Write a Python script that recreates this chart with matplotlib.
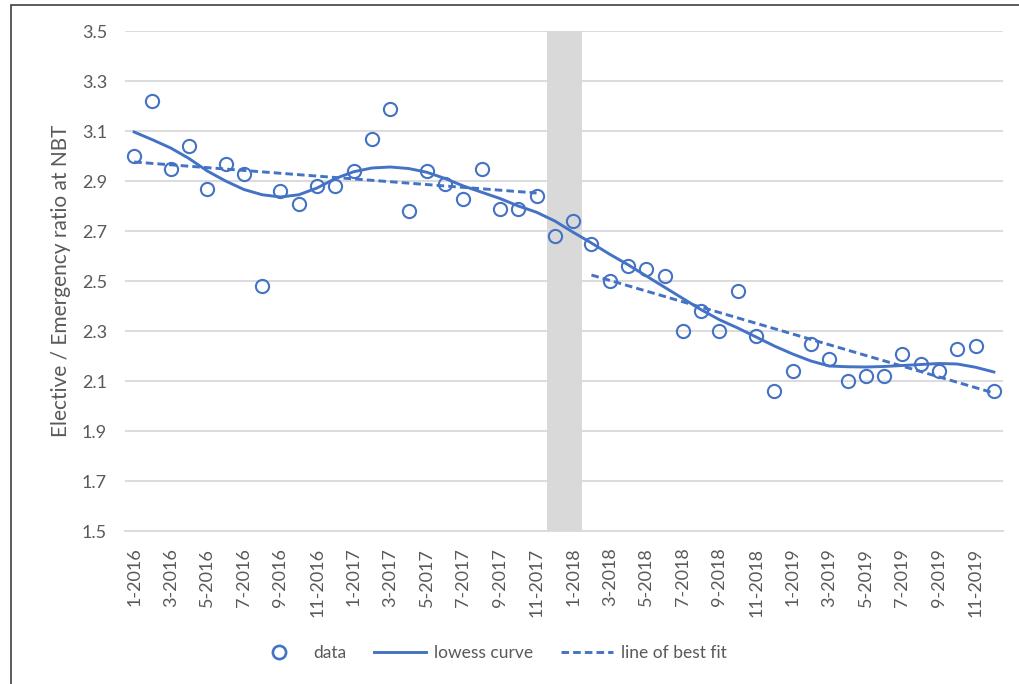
import numpy as np
import matplotlib
matplotlib.use("Agg")
import matplotlib.pyplot as plt
from matplotlib.patches import Rectangle
from matplotlib.lines import Line2D

plt.rcParams['font.family'] = ['Lato', 'DejaVu Sans']

# months Jan 2016 .. Dec 2019
months = [f"{m}-{y}" for y in range(2016, 2020) for m in range(1, 13)]

ratio = [3.00, 3.22, 2.95, 3.04, 2.87, 2.97, 2.93, 2.48, 2.86, 2.81,
         2.88, 2.88, 2.94, 3.07, 3.19, 2.78, 2.94, 2.89, 2.83, 2.95,
         2.79, 2.79, 2.84, 2.68, 2.74, 2.65, 2.50, 2.56, 2.55, 2.52,
         2.30, 2.38, 2.30, 2.46, 2.28, 2.06, 2.14, 2.25, 2.19, 2.10,
         2.12, 2.12, 2.21, 2.17, 2.14, 2.23, 2.24, 2.06]

lowess = [3.096, 3.065, 3.032, 2.99, 2.94, 2.90, 2.866, 2.845, 2.836, 2.845,
          2.872, 2.91, 2.937, 2.952, 2.956, 2.95, 2.935, 2.91, 2.88, 2.855,
          2.83, 2.80, 2.775, 2.74, 2.695, 2.652, 2.607, 2.565, 2.52, 2.475,
          2.43, 2.385, 2.345, 2.312, 2.276, 2.24, 2.208, 2.18, 2.16, 2.157,
          2.156, 2.158, 2.162, 2.166, 2.17, 2.168, 2.155, 2.136]

# line of best fit, two segments (start month, end month) -> (start value, end value)
fit_months = [(0, 22), (25, 47)]
fit_values = [(2.976, 2.852), (2.524, 2.052)]

gap_months = [23, 24]

blue = '#4472C4'
grey_txt = '#595959'
dash = (2.6, 1.4)

fig = plt.figure(figsize=(10.19, 6.84), dpi=100)
ax = fig.add_axes([125 / 1019, 1 - 531 / 684, 878 / 1019, 500 / 684])

x = np.arange(len(months))
ax.axvspan(gap_months[0] - 0.45, gap_months[-1] + 0.48, color='#d9d9d9', lw=0, zorder=1)

ax.plot(x, ratio, 'o', ms=9.5, mfc='none', mec=blue, mew=1.5, zorder=4)
ax.plot(x, lowess, '-', color=blue, lw=2.1, zorder=3)
for (m0, m1), (v0, v1) in zip(fit_months, fit_values):
    ax.plot([m0, m1], [v0, v1], '--', color=blue, lw=2.1, dashes=dash, zorder=3)

ax.set_xlim(-0.5, len(months) - 0.5)
ax.set_ylim(1.5, 3.5)
yt = np.arange(1.5, 3.51, 0.2)
ax.set_yticks(yt)
ax.set_yticklabels([f"{v:.1f}" for v in yt])
ax.set_xticks(x[::2])
ax.set_xticklabels(months[::2], rotation=90)
ax.grid(axis='y', color='#d9d9d9', lw=1.3)
ax.set_axisbelow(True)
for s in ['top', 'right', 'left']:
    ax.spines[s].set_visible(False)
ax.spines['bottom'].set_color('#d9d9d9')
ax.spines['bottom'].set_linewidth(1.3)
ax.tick_params(axis='both', length=0, colors=grey_txt, labelsize=13)
ax.tick_params(axis='y', pad=13)
ax.tick_params(axis='x', pad=12)
ax.set_ylabel("Elective / Emergency ratio at NBT", color=grey_txt, fontsize=15, labelpad=8)

handles = [
    Line2D([], [], ls='none', marker='o', ms=9.5, mfc='none', mec=blue, mew=1.9),
    Line2D([], [], color=blue, lw=2.1),
    Line2D([], [], color=blue, lw=2.1, ls='--', dashes=dash),
]
fig.legend(handles, ['data', 'lowess curve', 'line of best fit'], loc='center',
           bbox_to_anchor=(490 / 1019, 1 - 653 / 684), ncol=3, frameon=False,
           fontsize=12.5, labelcolor=grey_txt, handlelength=3.0, handletextpad=0.45,
           columnspacing=1.6)

# chart area border
fig.add_artist(Rectangle((11 / 1019, -0.05), 1.1, 1 - 5 / 684 + 0.05,
                         transform=fig.transFigure, fill=False, ec='#404040', lw=1.2))

fig.savefig('out.png', dpi=100)
